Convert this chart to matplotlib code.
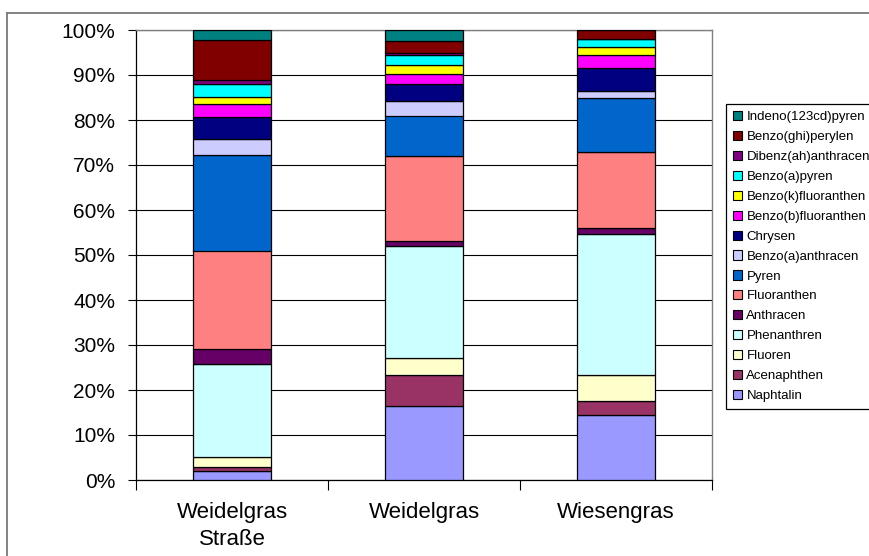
import matplotlib
matplotlib.use("Agg")
import matplotlib.pyplot as plt
from matplotlib.lines import Line2D
from matplotlib.patches import Patch
import numpy as np

plt.rcParams['font.family'] = ['Liberation Sans', 'DejaVu Sans']

categories = ["Weidelgras\nStraße", "Weidelgras", "Wiesengras"]

compounds = [
    "Naphtalin", "Acenaphthen", "Fluoren", "Phenanthren", "Anthracen",
    "Fluoranthen", "Pyren", "Benzo(a)anthracen", "Chrysen",
    "Benzo(b)fluoranthen", "Benzo(k)fluoranthen", "Benzo(a)pyren",
    "Dibenz(ah)anthracen", "Benzo(ghi)perylen", "Indeno(123cd)pyren",
]

# share of each compound (%) per sample, bottom to top of the stack
weidelgras_strasse = [2.0, 1.0, 2.2, 20.5, 3.5, 21.8, 21.3, 3.5, 4.8, 2.9, 1.6, 2.8, 0.9, 8.9, 2.3]
weidelgras = [16.4, 6.9, 3.8, 24.8, 1.3, 18.7, 9.1, 3.2, 3.8, 2.2, 2.0, 2.2, 0.6, 2.6, 2.4]
wiesengras = [14.4, 3.2, 5.7, 31.4, 1.3, 16.8, 12.0, 1.6, 5.1, 2.9, 1.8, 1.8, 0.1, 1.9, 0.0]

colors = [
    "#9999FF", "#993366", "#FFFFCC", "#CCFFFF", "#660066",
    "#FF8080", "#0066CC", "#CCCCFF", "#000080",
    "#FF00FF", "#FFFF00", "#00FFFF",
    "#800080", "#800000", "#008080",
]

yticks = [0, 10, 20, 30, 40, 50, 60, 70, 80, 90, 100]
ytick_labels = [f"{v}%" for v in yticks]

data = np.array([weidelgras_strasse, weidelgras, wiesengras], dtype=float)
data = data / data.sum(axis=1, keepdims=True) * 100.0

W, H = 870, 556
fig = plt.figure(figsize=(W / 100, H / 100), dpi=100)
ax = fig.add_axes([136 / W, 1 - 480 / H, (712 - 136) / W, (480 - 30) / H])

x = np.arange(len(categories))
bottom = np.zeros(len(categories))
for i, name in enumerate(compounds):
    ax.bar(x, data[:, i], bottom=bottom, width=0.41, color=colors[i],
           edgecolor="black", linewidth=0.9, label=name, zorder=3)
    bottom += data[:, i]

ax.set_xlim(-0.5, len(categories) - 0.5)
ax.set_ylim(0, 100)
ax.set_yticks(yticks)
ax.set_yticklabels(ytick_labels, fontsize=15)
ax.set_xticks(x)
ax.set_xticklabels(categories, fontsize=16, linespacing=1.35)
ax.set_xticks([-0.5, 0.5, 1.5, 2.5], minor=True)
ax.tick_params(axis="x", which="major", length=0, pad=16)
ax.tick_params(axis="x", which="minor", length=7, width=0.8, color="black")
ax.tick_params(axis="y", length=6, width=0.8, pad=9)

ax.yaxis.grid(True, color="black", linewidth=0.8, zorder=0)
ax.set_axisbelow(True)
for side in ("top", "right"):
    ax.spines[side].set_color("#808080")
    ax.spines[side].set_linewidth(1.0)
for side in ("left", "bottom"):
    ax.spines[side].set_color("black")
    ax.spines[side].set_linewidth(0.9)

# legend: topmost stack element listed first
handles = [Patch(facecolor=colors[i], edgecolor="black", linewidth=0.8)
           for i in range(len(compounds))][::-1]
labels = compounds[::-1]
leg = fig.legend(handles, labels, loc="upper left",
                 bbox_to_anchor=(726 / W, 1 - 104 / H),
                 fontsize=9.5, frameon=True, fancybox=False,
                 edgecolor="black", framealpha=1, borderpad=0.55,
                 labelspacing=0.58, handlelength=0.7, handleheight=0.7,
                 handletextpad=0.3, borderaxespad=0)
leg.get_frame().set_linewidth(0.9)

# chart area frame
fig.add_artist(Line2D([7 / W, 1.0], [1 - 13 / H, 1 - 13 / H], color="#7a7a7a", linewidth=1.3))
fig.add_artist(Line2D([7 / W, 7 / W], [0.0, 1 - 13 / H], color="#7a7a7a", linewidth=1.3))

fig.savefig("out.png", dpi=100)
